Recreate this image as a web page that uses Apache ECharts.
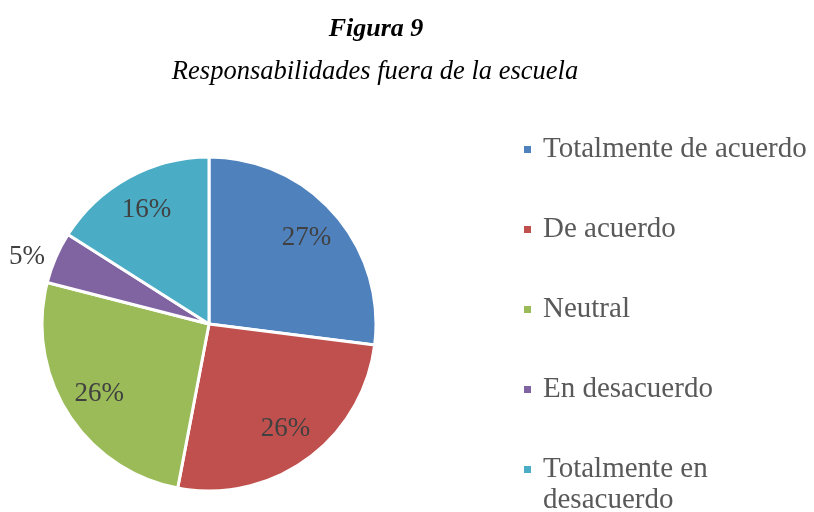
<!DOCTYPE html>
<html>
<head>
<meta charset="utf-8">
<style>
	html, body { margin: 0; padding: 0; background: #fff; }
	#main { width: 814px; height: 512px; }
</style>
<script src="https://cdn.jsdelivr.net/npm/echarts@6/dist/echarts.min.js"></script>
</head>
<body>
<div id="main"></div>
<script type="text/javascript">
	var categories = [ 'Totalmente de acuerdo', 'De acuerdo', 'Neutral', 'En desacuerdo', 'Totalmente en desacuerdo' ];
	var values = [ 27, 26, 26, 5, 16 ];
	var colors = [ '#4F81BD', '#C0504D', '#9BBB59', '#8064A2', '#4BACC6' ];
	var outsideLabel = 'En desacuerdo'; // la porción pequeña lleva la etiqueta fuera

	var font = '"Liberation Serif", "Times New Roman", serif';
	var chart = echarts.init(document.getElementById('main'));

	// serie principal: solo la etiqueta exterior
	var pieData = categories.map(function(name, i) {
		var item = { name : name, value : values[i], itemStyle : { color : colors[i] } };
		if (name === outsideLabel) {
			item.label = { show : true };
			item.labelLine = { show : false, length : 2, length2 : 4 };
		}
		return item;
	});
	// serie transparente solo para colocar las etiquetas interiores
	var labelData = categories.map(function(name, i) {
		return { name : name, value : values[i], label : { show : name !== outsideLabel } };
	});

	var legendBase = {
		orient : 'vertical',
		left : 522,
		padding : 0,
		icon : 'rect',
		itemWidth : 9,
		itemHeight : 9,
		itemGap : 49,
		formatter : function(name) {
			// línea vacía arriba para que "Totalmente en" quede a la altura del cuadro
			return name === 'Totalmente en desacuerdo' ? '\nTotalmente en\ndesacuerdo' : name;
		},
		textStyle : { fontFamily : font, fontSize : 29, lineHeight : 31, color : '#595959', padding : [ 0, 0, 0, 6 ] }
	};

	var option = {
		animation : false,
		textStyle : { fontFamily : font },
		title : [ {
			text : 'Figura 9',
			left : 371,
			top : 11,
			textAlign : 'center',
			textStyle : { fontFamily : font, fontSize : 26, fontWeight : 'bold', fontStyle : 'italic', color : '#000' }
		}, {
			text : 'Responsabilidades fuera de la escuela',
			left : 370,
			top : 54,
			textAlign : 'center',
			textStyle : { fontFamily : font, fontSize : 26.5, fontWeight : 'normal', fontStyle : 'italic', color : '#000' }
		} ],
		legend : [
			echarts.util.extend({ top : 134, height : 340, data : categories.slice(0, 4) }, legendBase),
			echarts.util.extend({ top : 423, height : 100, data : categories.slice(4) }, legendBase)
		],
		series : [ {
			name : 'Responsabilidades',
			type : 'pie',
			center : [ 209, 324 ],
			radius : 167,
			startAngle : 90,
			clockwise : true,
			silent : true,
			itemStyle : { borderColor : '#fff', borderWidth : 3 },
			label : {
				show : false,
				position : 'outside',
				overflow : 'none',
				formatter : '{c}%',
				fontFamily : font,
				fontSize : 27,
				color : '#404040'
			},
			data : pieData
		}, {
			name : 'etiquetas',
			type : 'pie',
			center : [ 209, 324 ],
			radius : 254,
			startAngle : 90,
			clockwise : true,
			silent : true,
			z : 3,
			itemStyle : { color : 'transparent', borderWidth : 0 },
			label : {
				position : 'inside',
				formatter : '{c}%',
				fontFamily : font,
				fontSize : 27,
				color : '#404040'
			},
			labelLine : { show : false },
			data : labelData
		} ]
	};
	chart.setOption(option);
</script>
</body>
</html>
